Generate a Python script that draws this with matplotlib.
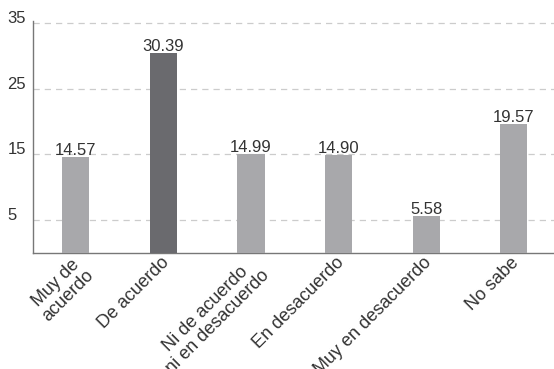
import matplotlib
matplotlib.use("Agg")
import matplotlib.pyplot as plt
from matplotlib.transforms import ScaledTranslation

categories = ["Muy de\nacuerdo", "De acuerdo", "Ni de acuerdo\nni en desacuerdo",
              "En desacuerdo", "Muy en desacuerdo", "No sabe"]
values = [14.57, 30.39, 14.99, 14.90, 5.58, 19.57]
value_labels = ["14.57", "30.39", "14.99", "14.90", "5.58", "19.57"]
yticks = [5, 15, 25, 35]
highlight = 1

plt.rcParams['font.family'] = ['Liberation Sans', 'DejaVu Sans']

fig = plt.figure(figsize=(5.54, 3.69), dpi=100)
ax = fig.add_axes([0.0596, 0.3144, 0.9404, 0.6287])

light = "#a8a8ab"
dark = "#6a6a6e"
colors = [dark if i == highlight else light for i in range(len(values))]
x = list(range(len(values)))
ax.bar(x, values, width=0.31, color=colors, zorder=3)

for xi, v, lab in zip(x, values, value_labels):
    ax.annotate(lab, (xi, v), xytext=(0, 1.6), textcoords='offset points',
                ha='center', va='baseline', fontsize=12, color='#333333', zorder=4)

ax.set_xlim(-0.49, 5.46)
ax.set_ylim(0, 35.3)
ax.set_yticks(yticks)
ax.set_yticklabels([str(t) for t in yticks])
ax.yaxis.grid(True, linestyle=(0, (5, 4)), color='#cccccc', linewidth=0.9, zorder=0)
ax.tick_params(axis='y', length=0, pad=18.5, labelsize=12, labelcolor='#333333')
for lab in ax.get_yticklabels():
    lab.set_horizontalalignment('left')
    lab.set_verticalalignment('baseline')

ax.set_xticks(x)
ax.set_xticklabels(categories, rotation=45, ha='right', rotation_mode='anchor',
                   fontsize=13, color='#333333', multialignment='center',
                   linespacing=1.05)
ax.tick_params(axis='x', length=0, pad=1.0)
shift = ScaledTranslation(-3 / 100, 0, fig.dpi_scale_trans)
for lab in ax.get_xticklabels():
    lab.set_transform(lab.get_transform() + shift)

for s in ['top', 'right']:
    ax.spines[s].set_visible(False)
for s in ['left', 'bottom']:
    ax.spines[s].set_color('#777777')
    ax.spines[s].set_linewidth(1.0)

fig.savefig("out.png", dpi=100)
